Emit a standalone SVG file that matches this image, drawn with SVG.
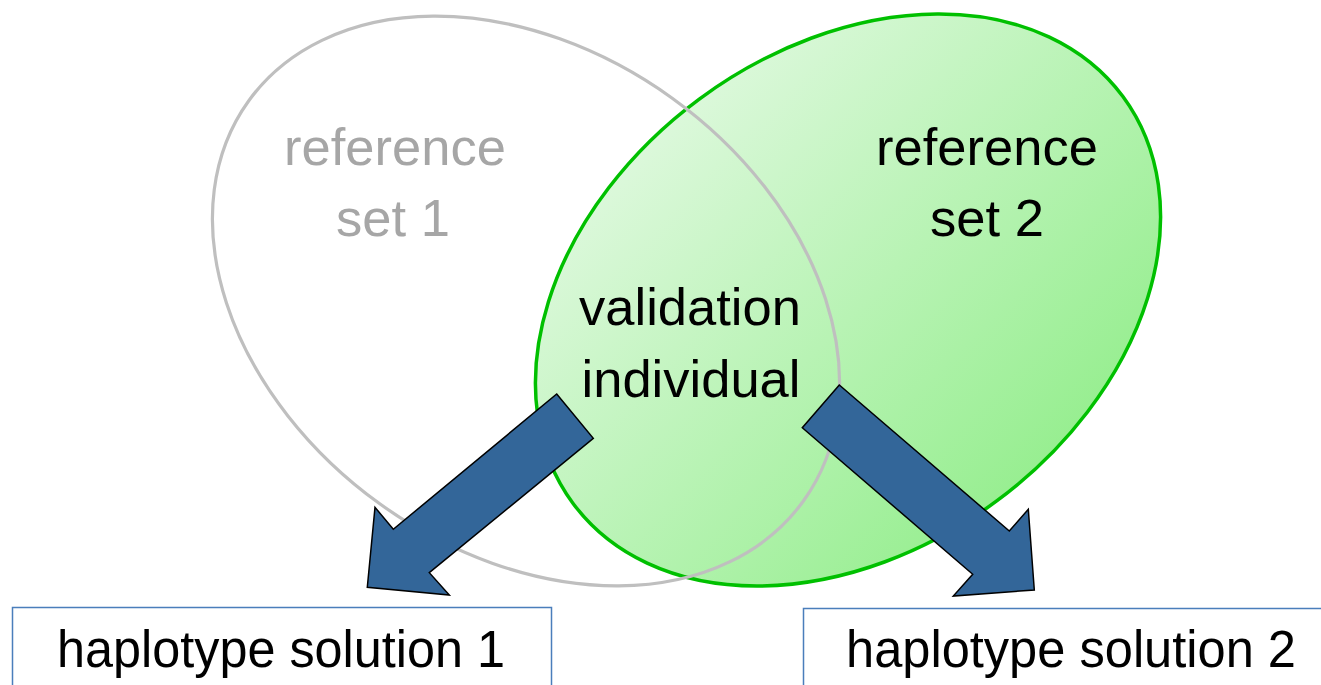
<svg xmlns="http://www.w3.org/2000/svg" width="1321" height="685" viewBox="0 0 1321 685">
<style>
text{font-family:"Liberation Sans",Arial,sans-serif;text-anchor:middle}
.big{font-size:52.5px}
.sol{font-size:51px;fill:#000}
.gray{fill:#A6A6A6}
.blk{fill:#000}
.arrow{fill:#336699;stroke:#000;stroke-width:1.5;stroke-linejoin:miter}
.box{fill:#fff;stroke:#4A7EBB;stroke-width:1.5}
</style>
<defs>
<linearGradient id="g2" gradientUnits="userSpaceOnUse" x1="600" y1="60" x2="1110" y2="560" gradientTransform="rotate(36.5 848 300)">
<stop offset="0" stop-color="#E8FAE8"/>
<stop offset="1" stop-color="#88EC80"/>
</linearGradient>
</defs>
<rect width="1321" height="685" fill="#fff"/>
<g id="set2">
<ellipse cx="848" cy="300" rx="342" ry="250" transform="rotate(-36.5 848 300)" fill="url(#g2)" stroke="#00C000" stroke-width="3.5"/>
<text class="big blk" x="987" y="165">reference</text>
<text class="big blk" x="987" y="236">set 2</text>
</g>
<g id="set1">
<ellipse cx="526" cy="301" rx="342" ry="250" transform="rotate(35.8 526 301)" fill="none" stroke="#BFBFBF" stroke-width="3.2"/>
<text class="big gray" x="395" y="165">reference</text>
<text class="big gray" x="393" y="236">set 1</text>
</g>
<g id="validation">
<text class="big blk" x="690" y="325">validation</text>
<text class="big blk" x="691" y="397">individual</text>
</g>
<g id="connectors">
<polygon class="arrow" points="556.7,394 593.3,438.3 429.3,572.7 449.3,595 367.3,587.3 375,507.3 393.3,529.3"/>
<polygon class="arrow" points="839.3,385 802.3,427.7 972.7,574.3 953.3,596 1034.3,590 1028.3,509.3 1009.3,531"/>
</g>
<g id="solution1">
<rect class="box" x="12.5" y="607.5" width="539" height="90"/>
<text class="sol" x="281" y="667" textLength="448" lengthAdjust="spacingAndGlyphs">haplotype solution 1</text>
</g>
<g id="solution2">
<rect class="box" x="803.5" y="608.5" width="530" height="90"/>
<text class="sol" x="1071" y="667" textLength="450" lengthAdjust="spacingAndGlyphs">haplotype solution 2</text>
</g>
</svg>
